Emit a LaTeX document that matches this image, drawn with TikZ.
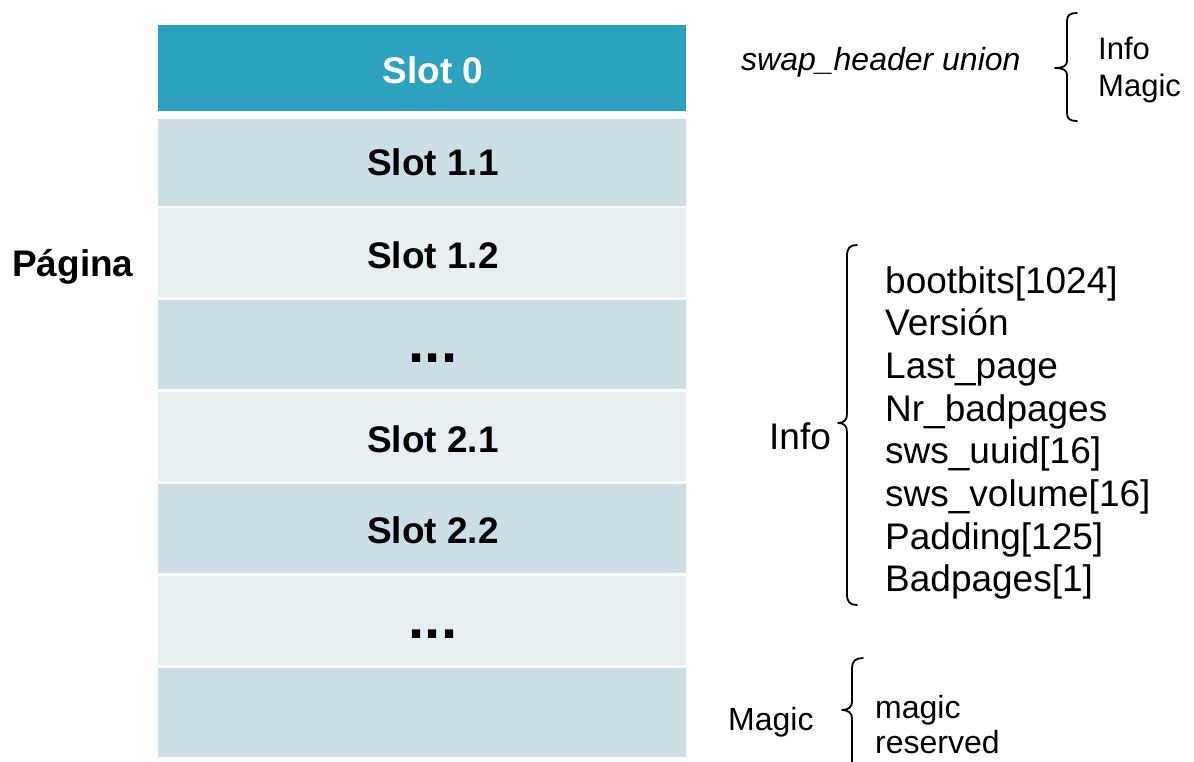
\documentclass[tikz,border=0pt]{standalone}
\usepackage{fontspec}
\setmainfont{Liberation Sans}
\definecolor{slotdark}{HTML}{2CA2BF}
\definecolor{slotmid}{HTML}{CDDFE6}
\definecolor{slotlight}{HTML}{E8EFF2}
\begin{document}
\begin{tikzpicture}[x=1pt,y=-1pt,
  slotlbl/.style={font=\fontsize{37}{40}\selectfont\bfseries, inner sep=0pt},
  biglbl/.style={font=\fontsize{37}{40}\selectfont, inner sep=0pt},
  smalllbl/.style={font=\fontsize{32}{34}\selectfont, inner sep=0pt},
  bracepath/.style={line width=1.8pt, line cap=round, line join=round}]
\useasboundingbox (0,0) rectangle (1194,762);
% rows
\fill[slotdark] (158,25) rectangle (686,111);
\fill[slotmid] (158,119) rectangle (686,206);
\fill[slotlight] (158,208) rectangle (686,297);
\fill[slotmid] (158,300) rectangle (686,389);
\fill[slotlight] (158,392) rectangle (686,481);
\fill[slotmid] (158,484) rectangle (686,573);
\fill[slotlight] (158,576) rectangle (686,665);
\fill[slotmid] (158,668) rectangle (686,757);
% labels
\node[slotlbl, text=white] (s0) at (433,70) {Slot 0};
\node[slotlbl] (s11) at (433,162) {Slot 1.1};
\node[slotlbl] (s12) at (433,255) {Slot 1.2};
\node[anchor=base, inner sep=0pt, font=\fontsize{58}{60}\selectfont\bfseries] (d1) at (433,362) {...};
\node[slotlbl] (s21) at (433,439) {Slot 2.1};
\node[slotlbl] (s22) at (433,530) {Slot 2.2};
\node[anchor=base, inner sep=0pt, font=\fontsize{58}{60}\selectfont\bfseries] (d2) at (433,638) {...};
\node[slotlbl, anchor=west] (pag) at (12,267) {Página};
% top annotation
\node[smalllbl, anchor=base west, font=\fontsize{32}{34}\selectfont\itshape] (swap) at (741,71) {swap\_header union};
\node[anchor=base west, inner sep=0pt, font=\fontsize{31}{34}\selectfont] (tinfo) at (1098,60) {Info};
\node[anchor=base west, inner sep=0pt, font=\fontsize{31}{34}\selectfont] (tmagic) at (1098,97) {Magic};
\draw[bracepath] (1077,13) .. controls (1070,13) and (1067,15) .. (1067,21) -- (1067,61)
  .. controls (1067,66) and (1063,68) .. (1055,68)
  .. controls (1063,68) and (1067,70) .. (1067,75) -- (1067,113)
  .. controls (1067,119) and (1070,121) .. (1077,121);
% info annotation
\node[biglbl, anchor=base west] (info) at (769,449) {Info};
\draw[bracepath] (857,245) .. controls (850,245) and (847,248) .. (847,256) -- (847,414)
  .. controls (847,420) and (844,423) .. (838,423)
  .. controls (844,423) and (847,426) .. (847,432) -- (847,594)
  .. controls (847,602) and (850,605) .. (857,605);
\foreach \t [count=\i from 0] in {bootbits[1024],Versión,Last\_page,Nr\_badpages,sws\_uuid[16],sws\_volume[16],Padding[125],Badpages[1]}{
  \node[biglbl, anchor=base west] (f\i) at (885,{293+\i*42.7}) {\t};
}
% magic annotation
\node[smalllbl, anchor=base west] (bmagic) at (728,730) {Magic};
\draw[bracepath] (863,658) .. controls (856,658) and (852,661) .. (852,668) -- (852,702)
  .. controls (852,707) and (848,710) .. (842,710)
  .. controls (848,710) and (852,713) .. (852,718) -- (852,770);
\node[smalllbl, anchor=base west] (m1) at (875,718) {magic};
\node[smalllbl, anchor=base west] (m2) at (875,753) {reserved};
\end{tikzpicture}
\end{document}
